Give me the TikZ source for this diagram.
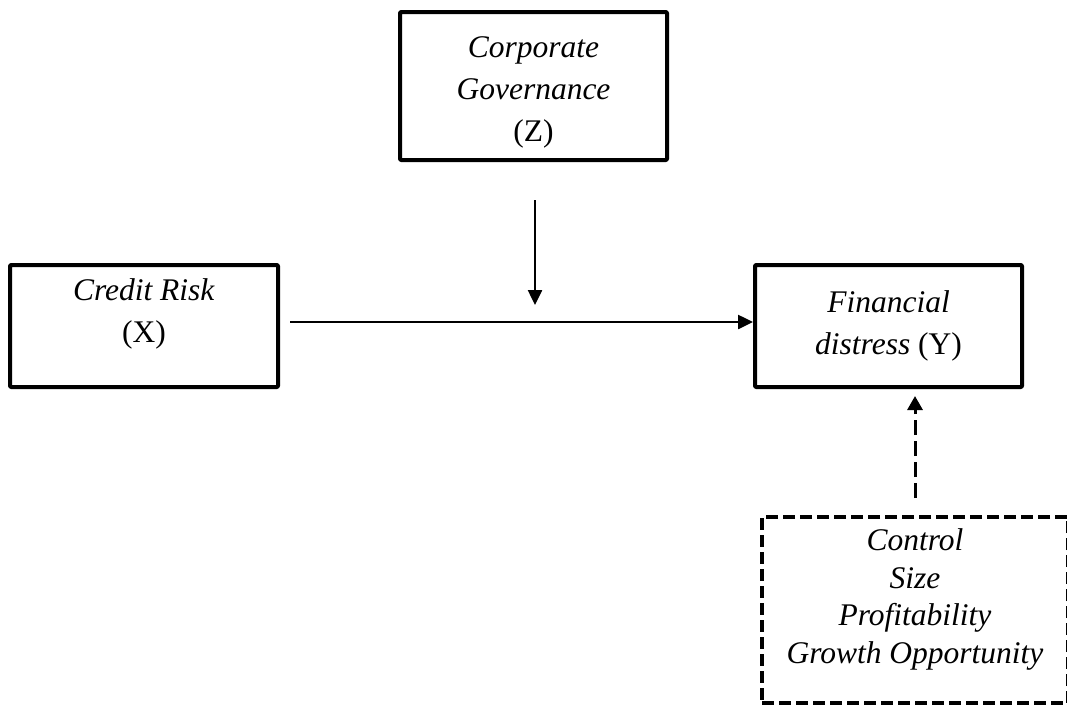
\documentclass[tikz,border=0pt]{standalone}
\usepackage{fontspec}
\setmainfont{Liberation Serif}
\usetikzlibrary{arrows.meta}
\begin{document}
\begin{tikzpicture}[x=1pt,y=-1pt,
  every node/.style={font=\fontsize{31.5}{42}\selectfont, align=center, inner sep=0pt},
  varbox/.style={draw, line width=4pt, line join=round, rounded corners=1pt},
  ctrlbox/.style={draw, line width=4pt, dash pattern=on 12pt off 5pt},
  arr/.style={line width=2.5pt, -{Triangle[length=15pt,width=14pt]}},
  darr/.style={line width=3pt, dash pattern=on 15pt off 6pt, -{Triangle[length=14pt,width=15pt]}}]
\useasboundingbox (0,0) rectangle (1067,707);
\node[varbox, minimum width=267pt, minimum height=148pt] (Z) at (533.5,86) {\mbox{}\\[-8pt]\textit{Corporate}\\\textit{Governance}\\(Z)};
\node[varbox, minimum width=268pt, minimum height=122pt] (X) at (144,326) {\textit{Credit Risk}\\(X)\\[-12pt]\mbox{}};
\node[varbox, minimum width=267pt, minimum height=122pt] (Y) at (888.5,326) {\textit{Financial}\\\textit{distress} (Y)};
\node[ctrlbox, minimum width=306pt, minimum height=186pt] (C) at (915,610) {\textit{Control}\\[-4.5pt]\textit{Size}\\[-4.5pt]\textit{Profitability}\\[-4.5pt]\textit{Growth Opportunity}\\[-14pt]\mbox{}};
\coordinate (m) at (535,305);
\coordinate (zs) at (535,160);
\draw[arr] (X.east |- 0,322) ++(10,0) coordinate (xs) -- (xs -| Y.west);
\draw[arr, shorten <=40pt] (zs) -- (m);
\draw[darr, shorten <=17pt, shorten >=7pt] (C.north) -- (C.north |- Y.south);
\end{tikzpicture}
\end{document}
